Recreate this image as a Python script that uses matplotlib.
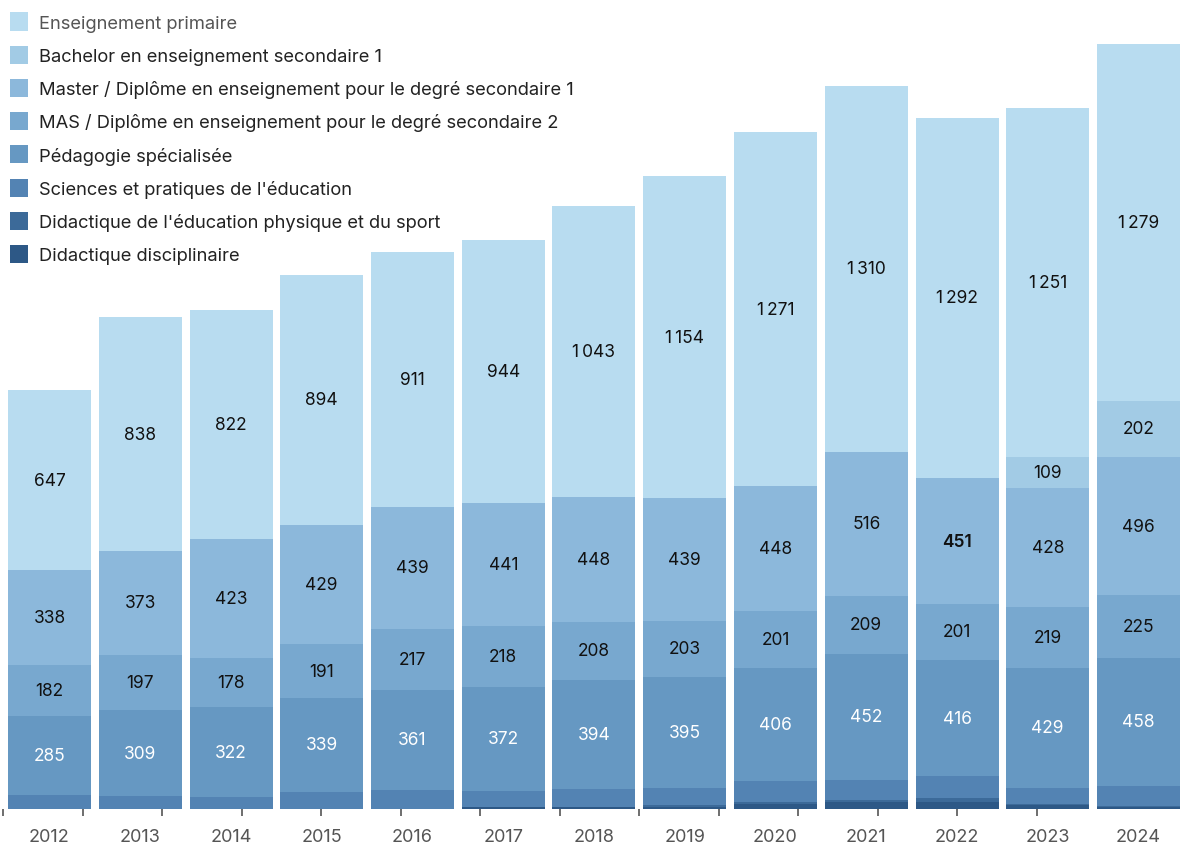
import numpy as np
import matplotlib
matplotlib.use("Agg")
import matplotlib.pyplot as plt
from matplotlib.patches import Patch

plt.rcParams["font.family"] = ["Inter", "DejaVu Sans"]

YEARS = ["2012", "2013", "2014", "2015", "2016", "2017", "2018",
         "2019", "2020", "2021", "2022", "2023", "2024"]

SERIES = [
    "Enseignement primaire",
    "Bachelor en enseignement secondaire 1",
    "Master / Diplôme en enseignement pour le degré secondaire 1",
    "MAS / Diplôme en enseignement pour le degré secondaire 2",
    "Pédagogie spécialisée",
    "Sciences et pratiques de l'éducation",
    "Didactique de l'éducation physique et du sport",
    "Didactique disciplinaire",
]

primaire = [647, 838, 822, 894, 911, 944, 1043, 1154, 1271, 1310, 1292, 1251, 1279]
bachelor = [0, 0, 0, 0, 0, 0, 0, 0, 0, 0, 0, 109, 202]
master = [338, 373, 423, 429, 439, 441, 448, 439, 448, 516, 451, 428, 496]
mas = [182, 197, 178, 191, 217, 218, 208, 203, 201, 209, 201, 219, 225]
pedagogie = [285, 309, 322, 339, 361, 372, 394, 395, 406, 452, 416, 429, 458]
sciences = [50, 46, 43, 60, 67, 59, 63, 62, 77, 72, 77, 58, 73]
eps = [0, 0, 0, 0, 0, 0, 0, 7, 7, 7, 17, 5, 3]
disciplinaire = [0, 0, 0, 0, 0, 7, 7, 8, 17, 25, 24, 13, 7]

COLORS = ["#b8dcf0", "#a2cbe5", "#8cb8db", "#78a8cf",
          "#6698c2", "#5383b3", "#3c6a99", "#2d5886"]
LABEL_COLORS = ["#111111", "#111111", "#111111", "#111111",
                "white", "white", "white", "white"]


def fmt(v):
    # espace fine comme séparateur des milliers
    return f"{v:,}".replace(",", "\u2009")


def main():
    values = [primaire, bachelor, master, mas, pedagogie,
              sciences, eps, disciplinaire]

    fig = plt.figure(figsize=(11.8, 8.45), dpi=100)
    ax = fig.add_axes([0, 35 / 845, 1, 810 / 845])

    x = np.arange(len(YEARS))
    width = 83 / 90.75
    bottom = np.zeros(len(YEARS))

    # empilement du bas vers le haut
    for i in range(len(SERIES) - 1, -1, -1):
        vals = np.array(values[i], dtype=float)
        ax.bar(x, vals, width, bottom=bottom, color=COLORS[i], linewidth=0)
        for j, v in enumerate(vals):
            if v >= 100:
                weight = "semibold" if (i == 2 and YEARS[j] == "2022") else "normal"
                ax.text(x[j], bottom[j] + v / 2, fmt(int(v)), ha="center",
                        va="center", fontsize=12.5, color=LABEL_COLORS[i],
                        fontweight=weight)
        bottom += vals

    ax.set_xlim(-49.5 / 90.75, 12 + 41.5 / 90.75)
    ax.set_ylim(0, 810 / 0.279)

    for s in ax.spines.values():
        s.set_visible(False)
    ax.set_yticks([])
    ax.set_xticks(x)
    ax.set_xticklabels(YEARS, fontsize=13, color="#555555")
    ax.tick_params(axis="x", which="major", length=0, pad=14)
    minor = -0.509 + (79.5 / 90.75) * np.arange(14)
    ax.set_xticks(minor, minor=True)
    ax.tick_params(axis="x", which="minor", length=5, width=1.2, color="#555555")

    handles = [Patch(facecolor=c, edgecolor="none") for c in COLORS]
    leg = ax.legend(handles, SERIES, loc="upper left", bbox_to_anchor=(0.0, 0.996),
                    frameon=False, fontsize=13.2, handlelength=1.0, handleheight=1.15,
                    handletextpad=0.6, labelspacing=0.76, borderaxespad=0.15)
    for k, t in enumerate(leg.get_texts()):
        t.set_color("#555555" if k == 0 else "#222222")

    fig.savefig("out.png", dpi=100)


if __name__ == "__main__":
    main()
